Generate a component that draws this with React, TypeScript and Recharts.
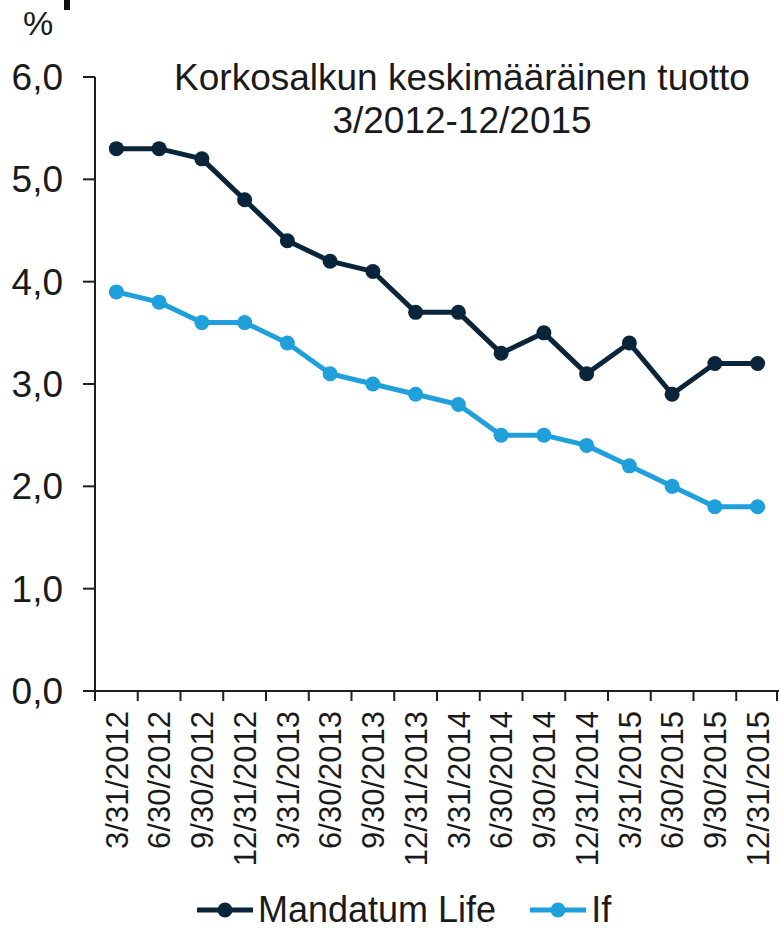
import React from "react";
import { LineChart, Line, XAxis, YAxis } from "recharts";

const quarters = [
  "3/31/2012", "6/30/2012", "9/30/2012", "12/31/2012",
  "3/31/2013", "6/30/2013", "9/30/2013", "12/31/2013",
  "3/31/2014", "6/30/2014", "9/30/2014", "12/31/2014",
  "3/31/2015", "6/30/2015", "9/30/2015", "12/31/2015",
];
const mandatumLife = [5.3, 5.3, 5.2, 4.8, 4.4, 4.2, 4.1, 3.7, 3.7, 3.3, 3.5, 3.1, 3.4, 2.9, 3.2, 3.2];
const ifValues = [3.9, 3.8, 3.6, 3.6, 3.4, 3.1, 3.0, 2.9, 2.8, 2.5, 2.5, 2.4, 2.2, 2.0, 1.8, 1.8];
const yTicks = [0, 1, 2, 3, 4, 5, 6];

const W = 779;
const H = 931;
const FONT = "'Liberation Sans', Arial, sans-serif";
const DARK = "#0a2539";
const LIGHT = "#1fa0dc";
const AXIS = "#1e1e1e";
const PLOT_LEFT = 95;
const PLOT_RIGHT = 779;
const BAND = (PLOT_RIGHT - PLOT_LEFT) / quarters.length;

const data = quarters.map((q, i) => ({ q, ml: mandatumLife[i], ifv: ifValues[i] }));

function XTick(props: any) {
  const { x, y, payload, index } = props;
  const left = x - BAND / 2;
  const right = x + BAND / 2;
  const ty = y + 20;
  return (
    <g>
      <line x1={left} y1={y} x2={left} y2={y + 10} stroke={AXIS} strokeWidth={2} />
      {index === quarters.length - 1 && (
        <line x1={right - 2} y1={y} x2={right - 2} y2={y + 10} stroke={AXIS} strokeWidth={2} />
      )}
      <text
        x={x}
        y={ty}
        dy="0.36em"
        textAnchor="end"
        transform={`rotate(-90, ${x}, ${ty})`}
        fontSize={31}
        fontFamily={FONT}
        fill="#1a1a1a"
      >
        {payload.value}
      </text>
    </g>
  );
}

function LegendIcon({ color }: { color: string }) {
  return (
    <svg width={58} height={20} style={{ display: "block" }}>
      <line x1={1} y1={10} x2={57} y2={10} stroke={color} strokeWidth={5} />
      <circle cx={29} cy={10} r={7.5} fill={color} />
    </svg>
  );
}

export default function App() {
  return (
    <div style={{ position: "absolute", left: 0, top: 0, width: W, height: H, fontFamily: FONT, color: "#1a1a1a" }}>
      <div style={{ position: "absolute", left: 23, top: 6, fontSize: 34, lineHeight: "34px" }}>%</div>
      <div style={{ position: "absolute", left: 64, top: 0, width: 6, height: 10, background: "#111" }} />
      <div
        style={{
          position: "absolute",
          left: 142,
          width: 640,
          top: 56,
          fontSize: 37,
          lineHeight: "43px",
          textAlign: "center",
          zIndex: 2,
        }}
      >
        Korkosalkun keskimääräinen tuotto
        <br />
        3/2012-12/2015
      </div>
      <LineChart width={W} height={H} data={data} margin={{ top: 77, right: W - PLOT_RIGHT, bottom: 0, left: 0 }}>
        <XAxis
          dataKey="q"
          interval={0}
          height={240}
          padding={{ left: BAND / 2, right: BAND / 2 }}
          tickSize={0}
          tickMargin={0}
          tickLine={false}
          axisLine={{ stroke: AXIS, strokeWidth: 2 }}
          tick={<XTick />}
        />
        <YAxis
          width={PLOT_LEFT}
          domain={[0, 6]}
          ticks={yTicks}
          interval={0}
          tickSize={12}
          tickMargin={20}
          axisLine={{ stroke: AXIS, strokeWidth: 2 }}
          tickLine={{ stroke: AXIS, strokeWidth: 2 }}
          tick={{ fontSize: 37, fontFamily: FONT, fill: "#1a1a1a" }}
          tickFormatter={(v: number) => v.toFixed(1).replace(".", ",")}
        />
        <Line
          dataKey="ml"
          name="Mandatum Life"
          stroke={DARK}
          strokeWidth={5}
          dot={{ r: 7.5, fill: DARK, stroke: DARK, strokeWidth: 0 }}
          isAnimationActive={false}
        />
        <Line
          dataKey="ifv"
          name="If"
          stroke={LIGHT}
          strokeWidth={5}
          dot={{ r: 7.5, fill: LIGHT, stroke: LIGHT, strokeWidth: 0 }}
          isAnimationActive={false}
        />
      </LineChart>
      <div
        style={{
          position: "absolute",
          left: 196,
          top: 894,
          display: "flex",
          alignItems: "center",
          fontSize: 36,
          lineHeight: "32px",
        }}
      >
        <LegendIcon color={DARK} />
        <span style={{ marginLeft: 4 }}>Mandatum Life</span>
        <span style={{ width: 33 }} />
        <LegendIcon color={LIGHT} />
        <span style={{ marginLeft: 4 }}>If</span>
      </div>
    </div>
  );
}
